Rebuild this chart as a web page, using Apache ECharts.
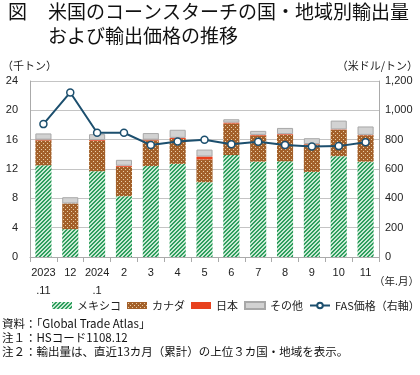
<!DOCTYPE html>
<html>
<head>
<meta charset="utf-8">
<script src="https://cdn.jsdelivr.net/npm/echarts@6/dist/echarts.min.js"></script>
<style>
  html, body { margin: 0; padding: 0; background: #fff; }
  #chart { width: 420px; height: 375px; }
</style>
</head>
<body>
<div id="chart"></div>
<script>
// 月（カテゴリ）
const months = ['2023\n.11', '12', '2024\n.1', '2', '3', '4', '5', '6', '7', '8', '9', '10', '11'];
// 輸出量（千トン）
const mexico = [12.5, 3.8, 11.7, 8.3, 12.4, 12.7, 10.2, 13.9, 13.0, 13.05, 11.6, 13.75, 13.0];
const canada = [3.4, 3.5, 4.15, 4.0, 3.5, 3.4, 3.1, 4.3, 3.55, 3.6, 3.75, 3.6, 3.6];
const japan = [0.1, 0.0, 0.1, 0.15, 0.1, 0.15, 0.4, 0.13, 0.1, 0.1, 0.05, 0.05, 0.05];
const others = [0.85, 0.85, 0.8, 0.8, 0.9, 1.1, 0.95, 0.45, 0.55, 0.85, 0.8, 1.2, 1.15];
// FAS価格（米ドル/トン）
const fasPrice = [906, 1122, 847, 847, 763, 788, 800, 768, 786, 763, 754, 756, 782];

const FONT = '"Noto Sans CJK JP", "Noto Sans", sans-serif';
const NUM_FONT = 'Arial, "Liberation Sans", sans-serif';

// 斜線パターン（メキシコ）
function makeStripe() {
  const c = document.createElement('canvas');
  c.width = 4; c.height = 4;
  const g = c.getContext('2d');
  g.fillStyle = '#c9ead4';
  g.fillRect(0, 0, 4, 4);
  g.fillStyle = '#2f9e5e';
  for (let i = 0; i < 4; i++) {
    g.fillRect(i, 3 - i, 1, 1);
    g.fillRect((i + 1) % 4, 3 - i, 1, 1);
  }
  return c;
}
// 水玉パターン（カナダ）
function makeDots() {
  const c = document.createElement('canvas');
  c.width = 4; c.height = 4;
  const g = c.getContext('2d');
  g.fillStyle = '#a3602a';
  g.fillRect(0, 0, 4, 4);
  g.fillStyle = '#e9cfa8';
  g.fillRect(1, 1, 1, 1);
  g.fillRect(3, 3, 1, 1);
  return c;
}

const chart = echarts.init(document.getElementById('chart'));

const barBase = { type: 'bar', stack: 'vol', barWidth: '60%' };

chart.setOption({
  animation: false,
  textStyle: { fontFamily: FONT },
  grid: { left: 30, right: 41, top: 81, bottom: 118 },
  legend: {
    top: 300,
    left: 52,
    width: 600,
    padding: 0,
    itemWidth: 20,
    itemHeight: 7,
    itemGap: 6,
    textStyle: { fontSize: 11, color: '#222', fontFamily: FONT },
    data: [
      { name: 'メキシコ', icon: 'rect' },
      { name: 'カナダ', icon: 'rect' },
      { name: '日本', icon: 'rect' },
      { name: 'その他', icon: 'rect' },
      'FAS価格（右軸）'
    ]
  },
  xAxis: {
    type: 'category',
    data: months,
    axisLine: { lineStyle: { color: '#aaa' } },
    axisTick: { show: true, lineStyle: { color: '#aaa' } },
    axisLabel: { interval: 0, color: '#222', fontSize: 11, lineHeight: 18, margin: 7, fontFamily: NUM_FONT }
  },
  yAxis: [
    {
      type: 'value', min: 0, max: 24, interval: 4,
      axisLine: { show: true, lineStyle: { color: '#aaa' } },
      axisTick: { show: false },
      splitLine: { lineStyle: { color: '#c4c4c4' } },
      axisLabel: { color: '#222', fontSize: 11, margin: 12, fontFamily: NUM_FONT }
    },
    {
      type: 'value', min: 0, max: 1200, interval: 200,
      axisLine: { show: true, lineStyle: { color: '#aaa' } },
      axisTick: { show: false },
      splitLine: { show: false },
      axisLabel: {
        color: '#222', fontSize: 11, margin: 6, fontFamily: NUM_FONT,
        formatter: v => v.toLocaleString('en-US')
      }
    }
  ],
  series: [
    Object.assign({}, barBase, {
      name: 'メキシコ', data: mexico,
      itemStyle: { color: { image: makeStripe(), repeat: 'repeat' } }
    }),
    Object.assign({}, barBase, {
      name: 'カナダ', data: canada,
      itemStyle: { color: { image: makeDots(), repeat: 'repeat' } }
    }),
    Object.assign({}, barBase, {
      name: '日本', data: japan,
      itemStyle: { color: '#e8411e' }
    }),
    Object.assign({}, barBase, {
      name: 'その他', data: others,
      itemStyle: { color: '#d2d2d2', borderColor: '#a8a8a8', borderWidth: 1 }
    }),
    {
      name: 'FAS価格（右軸）', type: 'line', yAxisIndex: 1, data: fasPrice,
      symbol: 'circle', symbolSize: 7,
      lineStyle: { color: '#1c4f6e', width: 2 },
      itemStyle: { color: '#fff', borderColor: '#1c4f6e', borderWidth: 1.5 },
      z: 5
    }
  ],
  graphic: [
    { type: 'text', left: 8, top: 2, style: { text: '図', font: '19px ' + FONT, fill: '#111' } },
    { type: 'text', left: 48, top: 2, style: { text: '米国のコーンスターチの国・地域別輸出量', font: '19px ' + FONT, fill: '#111' } },
    { type: 'text', left: 48, top: 26, style: { text: 'および輸出価格の推移', font: '19px ' + FONT, fill: '#111' } },
    { type: 'text', left: 2, top: 60, style: { text: '（千トン）', font: '11px ' + FONT, fill: '#222' } },
    { type: 'text', right: 2, top: 60, style: { text: '（米ドル/トン）', font: '11px ' + FONT, fill: '#222' } },
    { type: 'text', right: 1, top: 276, style: { text: '（年.月）', font: '10.5px ' + FONT, fill: '#222' } },
    { type: 'text', left: 2, top: 318, style: { text: '資料：「Global Trade Atlas」', font: '11.5px ' + FONT, fill: '#111' } },
    { type: 'text', left: 2, top: 332, style: { text: '注１：HSコード1108.12', font: '11.5px ' + FONT, fill: '#111' } },
    { type: 'text', left: 2, top: 346, style: { text: '注２：輸出量は、直近13カ月（累計）の上位３カ国・地域を表示。', font: '11.5px ' + FONT, fill: '#111' } }
  ]
});
</script>
</body>
</html>
